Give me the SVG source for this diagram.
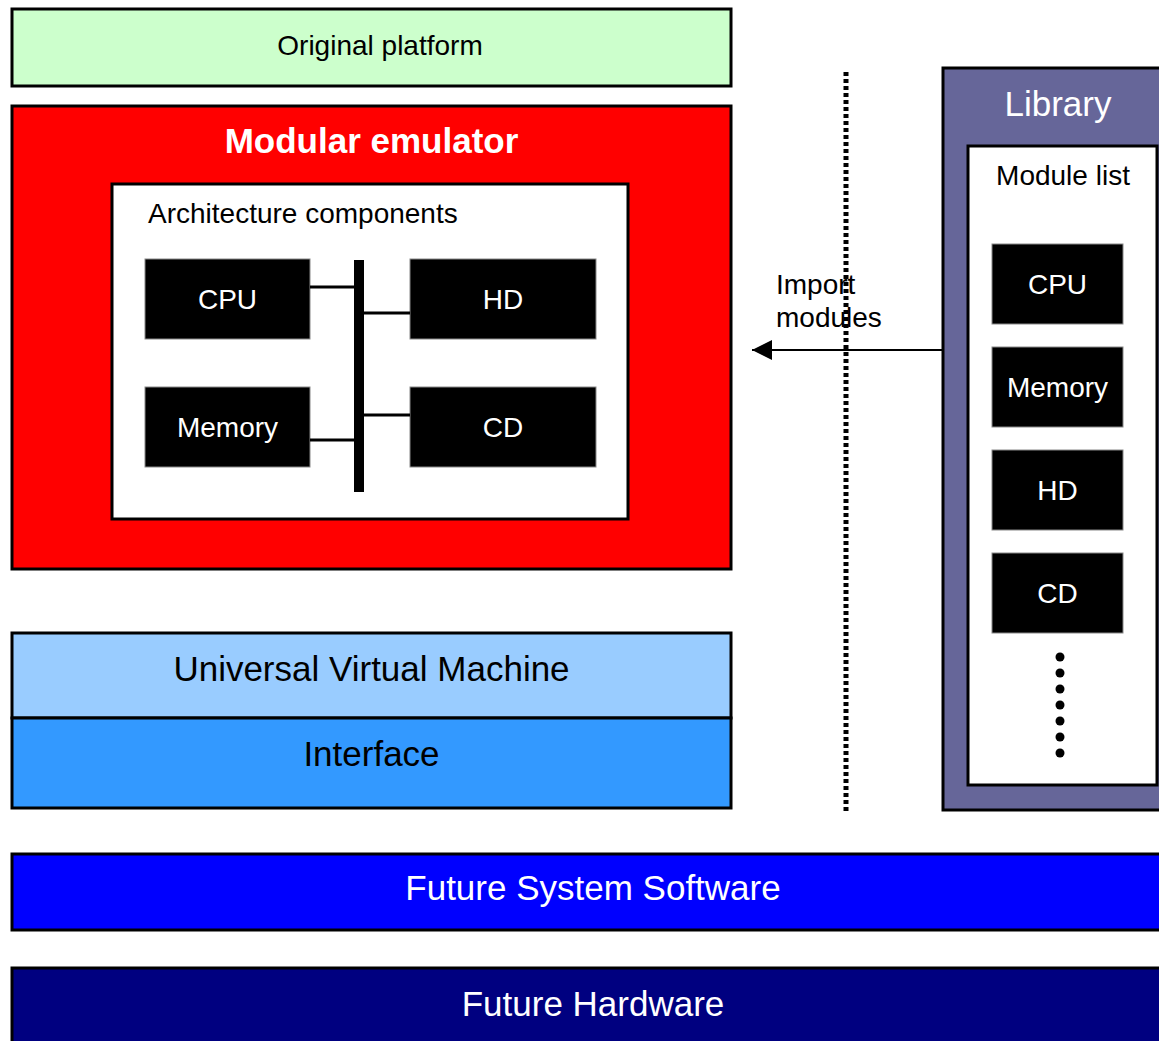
<svg xmlns="http://www.w3.org/2000/svg" width="1159" height="1041" viewBox="0 0 1159 1041">
<defs>
<style>
text{font-family:"Liberation Sans",Arial,sans-serif;}
.box{stroke:#000;stroke-width:3;}
.comp{fill:#000;stroke:#888;stroke-width:1;}
.wl{fill:#fff;font-size:28px;text-anchor:middle;}
.bl{fill:#000;font-size:28px;}
.big{font-size:35px;text-anchor:middle;}
.wire{stroke:#000;stroke-width:3;fill:none;}
</style>
<marker id="ah" viewBox="0 0 20 20" refX="20" refY="10" markerWidth="20" markerHeight="20" markerUnits="userSpaceOnUse" orient="auto">
<path d="M0,0 L20,10 L0,20 Z" fill="#000"/>
</marker>
</defs>
<rect width="1159" height="1041" fill="#fff"/>

<g id="original-platform">
<rect class="box" x="12" y="9" width="719" height="77" fill="#CCFFCC"/>
<text class="bl" x="380" y="55" text-anchor="middle">Original platform</text>
</g>

<g id="modular-emulator">
<rect class="box" x="12" y="106" width="719" height="463" fill="#FF0000"/>
<text x="371.5" y="153" font-size="35" font-weight="bold" fill="#fff" text-anchor="middle">Modular emulator</text>
<g id="architecture-components">
<rect class="box" x="112" y="184" width="516" height="335" fill="#fff"/>
<text class="bl" x="148" y="223">Architecture components</text>
<rect x="354" y="260" width="10" height="232" fill="#000"/>
</g>
<g id="arch-cpu"><rect class="comp" x="145" y="259" width="165" height="80"/><text class="wl" x="227.5" y="309">CPU</text></g>
<g id="arch-hd"><rect class="comp" x="410" y="259" width="186" height="80"/><text class="wl" x="503" y="309">HD</text></g>
<g id="arch-memory"><rect class="comp" x="145" y="387" width="165" height="80"/><text class="wl" x="227.5" y="437">Memory</text></g>
<g id="arch-cd"><rect class="comp" x="410" y="387" width="186" height="80"/><text class="wl" x="503" y="437">CD</text></g>
</g>

<g id="library">
<rect class="box" x="943" y="68" width="230" height="742" fill="#666699"/>
<text class="big" x="1058" y="116" fill="#fff">Library</text>
<rect class="box" x="968" y="146" width="189" height="639" fill="#fff"/>
<text class="bl" x="1063" y="185" text-anchor="middle">Module list</text>
<g fill="#000">
<circle cx="1060" cy="657" r="4.5"/><circle cx="1060" cy="673" r="4.5"/><circle cx="1060" cy="689" r="4.5"/><circle cx="1060" cy="705" r="4.5"/><circle cx="1060" cy="721" r="4.5"/><circle cx="1060" cy="737" r="4.5"/><circle cx="1060" cy="753" r="4.5"/>
</g>
</g>
<g id="lib-cpu"><rect class="comp" x="992" y="244" width="131" height="80"/><text class="wl" x="1057.5" y="294">CPU</text></g>
<g id="lib-memory"><rect class="comp" x="992" y="347" width="131" height="80"/><text class="wl" x="1057.5" y="397">Memory</text></g>
<g id="lib-hd"><rect class="comp" x="992" y="450" width="131" height="80"/><text class="wl" x="1057.5" y="500">HD</text></g>
<g id="lib-cd"><rect class="comp" x="992" y="553" width="131" height="80"/><text class="wl" x="1057.5" y="603">CD</text></g>

<g id="uvm">
<rect class="box" x="12" y="633" width="719" height="85" fill="#99CCFF"/>
<text class="big" x="371.5" y="681" fill="#000">Universal Virtual Machine</text>
</g>
<g id="interface">
<rect class="box" x="12" y="718" width="719" height="90" fill="#3399FF"/>
<text class="big" x="371.5" y="766" fill="#000">Interface</text>
</g>

<g id="future-system-software">
<rect class="box" x="12" y="854" width="1160" height="76" fill="#0000FF"/>
<text class="big" x="593" y="900" fill="#fff">Future System Software</text>
</g>
<g id="future-hardware">
<rect class="box" x="12" y="968" width="1160" height="90" fill="#000080"/>
<text class="big" x="593" y="1016" fill="#fff">Future Hardware</text>
</g>

<g id="connectors">
<line class="wire" x1="310" y1="287" x2="354" y2="287"/>
<line class="wire" x1="310" y1="440" x2="354" y2="440"/>
<line class="wire" x1="364" y1="313" x2="410" y2="313"/>
<line class="wire" x1="364" y1="415" x2="410" y2="415"/>
<line x1="846" y1="72" x2="846" y2="812" stroke="#000" stroke-width="5" stroke-dasharray="4 3"/>
<line x1="943" y1="350" x2="752" y2="350" stroke="#000" stroke-width="2" marker-end="url(#ah)"/>
<text class="bl" x="776" y="294" font-size="26">Import</text>
<text class="bl" x="776" y="327" font-size="26">modules</text>
</g>
</svg>
